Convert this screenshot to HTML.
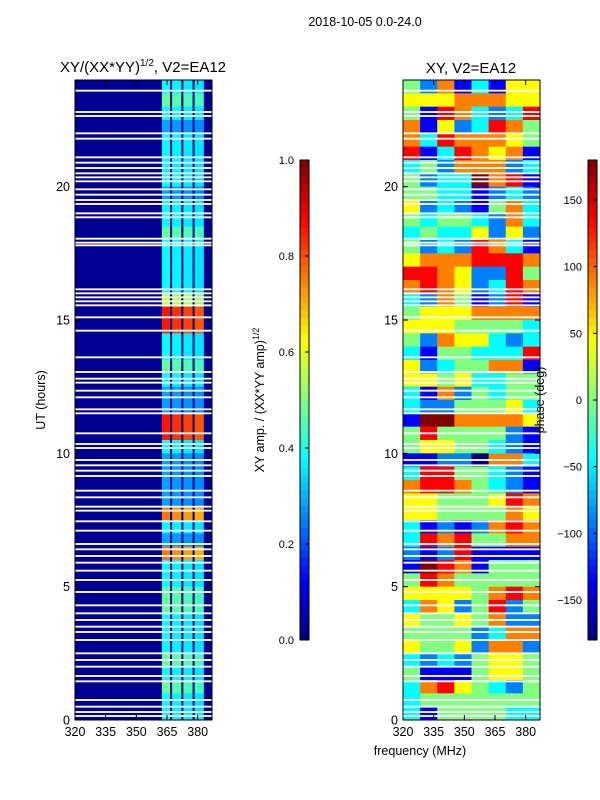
<!DOCTYPE html>
<html><head><meta charset="utf-8">
<style>
body{margin:0;background:#fff;}
svg{display:block;font-family:"Liberation Sans",sans-serif;}
</style></head>
<body>
<svg id="fig" width="600" height="800" viewBox="0 0 600 800">
<rect width="600" height="800" fill="#fff"/>
<text x="365" y="26" font-size="12.5" text-anchor="middle">2018-10-05 0.0-24.0</text>
<text x="143" y="72" font-size="15" text-anchor="middle">XY/(XX*YY)<tspan font-size="10" dy="-6">1/2</tspan><tspan dy="6">, V2=EA12</tspan></text>
<text x="471" y="73" font-size="15" text-anchor="middle">XY, V2=EA12</text>
<g id="left"></g>
<g id="right"></g>
<g id="cb1"></g>
<g id="cb2"></g>
<text transform="translate(45,400) rotate(-90)" font-size="12.5" text-anchor="middle">UT (hours)</text>
<text x="420" y="755" font-size="12.5" text-anchor="middle">frequency (MHz)</text>
<text transform="translate(264,400) rotate(-90)" font-size="12.5" text-anchor="middle">XY amp. / (XX*YY amp)<tspan font-size="9" dy="-5">1/2</tspan></text>
<text transform="translate(544,400) rotate(-90)" font-size="12.5" text-anchor="middle">phase (deg)</text>
</svg>
<script>
const NS="http://www.w3.org/2000/svg";
// ---- data ----
const freqMin=320, freqMax=387, hourMin=0, hourMax=24;
const xTicks=[320,335,350,365,380];
const yTicks=[0,5,10,15,20];
const ampTicks=[0.0,0.2,0.4,0.6,0.8,1.0];
const phaseTicks=[-150,-100,-50,0,50,100,150];
// amplitude: band level per half-hour row (top row = 23.5-24h), value*10
const ampRowLevels=[4,5,4,3,4,4,4,4,3,4,4,5,4,4,4,4,6,9,9,4,4,5,4,3,3,9,9,4,3,3,3,3,8,4,3,8,4,4,5,5,4,4,4,5,4,5,4,4];
// amplitude frequency bands [start,end,weight]
const ampBandStart=[362.5,367.5,373,378.5];
const ampBandEnd=[366.5,372,377.5,383];
const ampBandWeight=[0.95,0.92,0.9,0.88];
const ampBackground=0.02;
// phase: 8 freq columns per row, digit d -> -180 + 45*d deg
const phaseRows=["42613155","55566655","41763237","61523764","63766654","71376561","34266623","42338671",
"44331232","52321463","43443263","34335252","42327631","56667776","77652274","67652376",
"32641271","45556666","55544443","42655323","31443337","52344661","55453344","31624344",
"32244453","18866665","47444421","45544321","11220663","37744321","67764321","55444576",
"55444465","31212676","37674466","21271111","18761444","47644444","55554676","36524724",
"54454622","44442366","54452662","32324554","41114554","36754324","34444444","31444433"];
// gaps (hours) with no data
const gapHours=[23.6,22.8,22.65,22.0,21.8,21.1,20.9,20.7,20.5,20.35,20.2,19.9,19.7,19.5,19.35,19.0,18.85,18.05,17.9,17.8,16.15,16.0,15.85,15.7,15.55,15.1,14.6,13.6,13.05,12.8,12.65,12.35,12.1,11.65,11.5,10.75,10.35,10.2,9.75,9.55,9.35,9.15,8.6,8.35,8.0,7.85,7.45,7.1,6.6,6.4,6.15,5.9,5.6,5.25,4.8,4.3,4.0,3.75,3.5,3.3,3.0,2.5,2.25,2.0,1.65,1.45,0.75,0.5,0.3,0.15];
const gapWidth=0.07;

function jet(v){v=Math.max(0,Math.min(1,v));
 const r=Math.max(0,Math.min(1,Math.min(4*v-1.5,-4*v+4.5)));
 const g=Math.max(0,Math.min(1,Math.min(4*v-0.5,-4*v+3.5)));
 const b=Math.max(0,Math.min(1,Math.min(4*v+0.5,-4*v+2.5)));
 return `rgb(${Math.round(r*255)},${Math.round(g*255)},${Math.round(b*255)})`;}
function el(tag,attrs,parent){const e=document.createElementNS(NS,tag);for(const k in attrs)e.setAttribute(k,attrs[k]);parent.appendChild(e);return e;}

function panel(gid,x0,x1,y0,y1,fill){
 const g=document.getElementById(gid);
 const xs=f=>x0+(f-freqMin)/(freqMax-freqMin)*(x1-x0);
 const ys=h=>y1-(h-hourMin)/(hourMax-hourMin)*(y1-y0);
 fill(g,xs,ys);
 for(const h of gapHours){const r=el('rect',{x:x0,y:ys(h+gapWidth/2),width:x1-x0,height:ys(h-gapWidth/2)-ys(h+gapWidth/2),fill:'#fff'},g);
  
  }
 const fr=el('rect',{x:x0,y:y0,width:x1-x0,height:y1-y0,fill:'none',stroke:'#000','stroke-width':1},g);
 
 
 for(const t of xTicks){const x=xs(t);
  el('line',{x1:x,x2:x,y1:y1,y2:y1-5,stroke:'#000'},g);el('line',{x1:x,x2:x,y1:y0,y2:y0+5,stroke:'#000'},g);
  const tx=el('text',{x:x,y:y1+16,'font-size':12.5,'text-anchor':'middle'},g);tx.textContent=t;
  
  }
 for(const t of yTicks){const y=ys(t);
  el('line',{x1:x0,x2:x0+5,y1:y,y2:y,stroke:'#000'},g);el('line',{x1:x1,x2:x1-5,y1:y,y2:y,stroke:'#000'},g);
  const tx=el('text',{x:x0-5,y:y+4.5,'font-size':12.5,'text-anchor':'end'},g);tx.textContent=t;
  
  }
}
const rowH=(hourMax-hourMin)/ampRowLevels.length;
panel('left',75,212,80,720,(g,xs,ys)=>{
 el('rect',{x:75,y:80,width:137,height:640,fill:jet(ampBackground)},g);
 ampRowLevels.forEach((lv,i)=>{const hTop=hourMax-i*rowH;
  ampBandStart.forEach((s,j)=>{
   const r=el('rect',{x:xs(s),y:ys(hTop),width:xs(ampBandEnd[j])-xs(s),height:ys(hTop-rowH)-ys(hTop)+0.5,fill:jet(lv/10*ampBandWeight[j])},g);
   
   
  });});
});
panel('right',403,540,80,720,(g,xs,ys)=>{
 const ncol=phaseRows[0].length;const fw=(freqMax-freqMin)/ncol;const pr=(hourMax-hourMin)/phaseRows.length;
 phaseRows.forEach((row,i)=>{const hTop=hourMax-i*pr;
  for(let j=0;j<ncol;j++){const deg=-180+45*(+row[j]);
   const r=el('rect',{x:xs(freqMin+j*fw),y:ys(hTop),width:xs(freqMin+(j+1)*fw)-xs(freqMin+j*fw)+0.5,height:ys(hTop-pr)-ys(hTop)+0.5,fill:jet((deg+180)/360)},g);
   
   }
 });
});
function colorbar(gid,x0,x1,y0,y1,vmin,vmax,ticks,fmt){
 const g=document.getElementById(gid);const n=64;
 for(let i=0;i<n;i++){el('rect',{x:x0,y:y1-(i+1)*(y1-y0)/n,width:x1-x0,height:(y1-y0)/n+0.5,fill:jet((i+0.5)/n)},g);}
 el('rect',{x:x0,y:y0,width:x1-x0,height:y1-y0,fill:'none',stroke:'#000'},g);
 for(const t of ticks){const y=y1-(t-vmin)/(vmax-vmin)*(y1-y0);
  el('line',{x1:x1,x2:x1-4,y1:y,y2:y,stroke:'#000'},g);
  const tx=el('text',{x:x0-6,y:y+4,'font-size':11,'text-anchor':'end'},g);tx.textContent=fmt(t);
  
  }
}
colorbar('cb1',300,309,160,640,0,1,ampTicks,t=>t.toFixed(1));
colorbar('cb2',588,597,160,640,-180,180,phaseTicks,t=>t<0?'\u2212'+Math.abs(t):String(t));
</script>
</body></html>
